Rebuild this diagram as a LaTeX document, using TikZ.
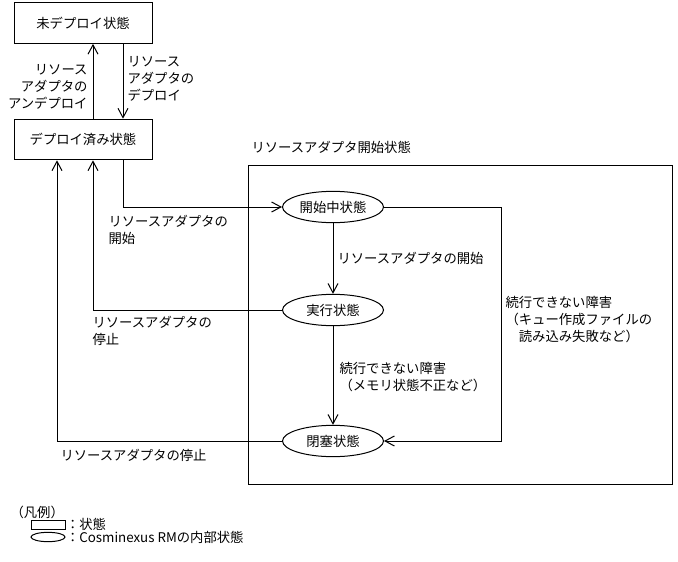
\documentclass[tikz,border=0pt]{standalone}
\usepackage{fontspec}
\newfontfamily\jpfont{Noto Sans CJK JP}
\usepackage{tikz}
\usetikzlibrary{positioning, arrows.meta, shapes.geometric, calc}

\begin{document}
\begin{tikzpicture}[x=0.75pt, y=-0.75pt, line width=0.75pt,
    every node/.style={font=\jpfont\fontsize{10}{12.75}\selectfont},
    statebox/.style={draw, rectangle, minimum width=103.5pt, minimum height=30.5pt, inner sep=0pt},
    innerstate/.style={draw, ellipse, minimum width=75.75pt, minimum height=23.5pt, inner sep=0pt},
    arr/.style={-{Straight Barb[length=7pt, width=7.5pt]}},
    lbl/.style={inner sep=0pt, align=left}]

    \useasboundingbox (0,0) rectangle (678,561);

    % draw the two outer states
    \node[statebox] (undeployed) at (83,23) {未デプロイ状態};
    \node[statebox] (deployed) at (83,139.5) {デプロイ済み状態};

    % deploy and undeploy
    \draw[arr] ($(deployed.north)+(10,0)$) -- ($(undeployed.south)+(10,0)$);
    \draw[arr] ($(undeployed.south)+(40,0)$) -- ($(deployed.north)+(40,0)$);
    \node[lbl, anchor=east, align=right] (undeploylbl) at (88,87) {リソース\\アダプタの\\アンデプロイ};
    \node[lbl, anchor=west] (deploylbl) at (127,79) {リソース\\アダプタの\\デプロイ};

    % draw the resource adapter start state
    \draw (248,165) rectangle (672,484);
    \node[lbl, anchor=west] (startedlbl) at (251,147) {リソースアダプタ開始状態};

    % draw the inner states
    \node[innerstate] (starting) at (333,207) {開始中状態};
    \node[innerstate] (running) at (333,310) {実行状態};
    \node[innerstate] (blocked) at (333,441) {閉塞状態};

    % transitions between the inner states
    \draw[arr] (starting) -- (running);
    \draw[arr] (running) -- (blocked);
    \draw[arr] (starting.east) -- ++(117,0) |- (blocked.east);
    \node[lbl, anchor=west] (startlbl) at (337,258) {リソースアダプタの開始};
    \node[lbl, anchor=west] (fault1lbl) at (339,377) {続行できない障害\\（メモリ状態不正など）};
    \node[lbl, anchor=west] (fault2lbl) at (505,320) {続行できない障害\\（キュー作成ファイルの\\　読み込み失敗など）};

    % transitions from and back to the deployed state
    \draw[arr] ($(deployed.south)+(40,0)$) |- (starting.west);
    \draw[arr] (running.west) -| ($(deployed.south)+(10,0)$);
    \draw[arr] (blocked.west) -| ($(deployed.south)+(-26,0)$);
    \node[lbl, anchor=west] (beginlbl) at (108,230) {リソースアダプタの\\開始};
    \node[lbl, anchor=west] (stoplbl) at (92,331) {リソースアダプタの\\停止};
    \node[lbl, anchor=west] (stopbluelbl) at (60,455) {リソースアダプタの停止};

    % draw the legend
    \node[lbl, anchor=west] (legendlbl) at (10,512) {（凡例）};
    \node[draw, rectangle, minimum width=25.5pt, minimum height=6.75pt, inner sep=0pt] (legendbox) at (48,524.5) {};
    \node[draw, ellipse, minimum width=25.5pt, minimum height=7pt, inner sep=0pt] (legendell) at (48,537) {};
    \node[lbl, anchor=west] (legendboxlbl) at (legendbox.east) {：状態};
    \node[lbl, anchor=west] (legendelllbl) at (legendell.east) {：Cosminexus RMの内部状態};

\end{tikzpicture}
\end{document}
